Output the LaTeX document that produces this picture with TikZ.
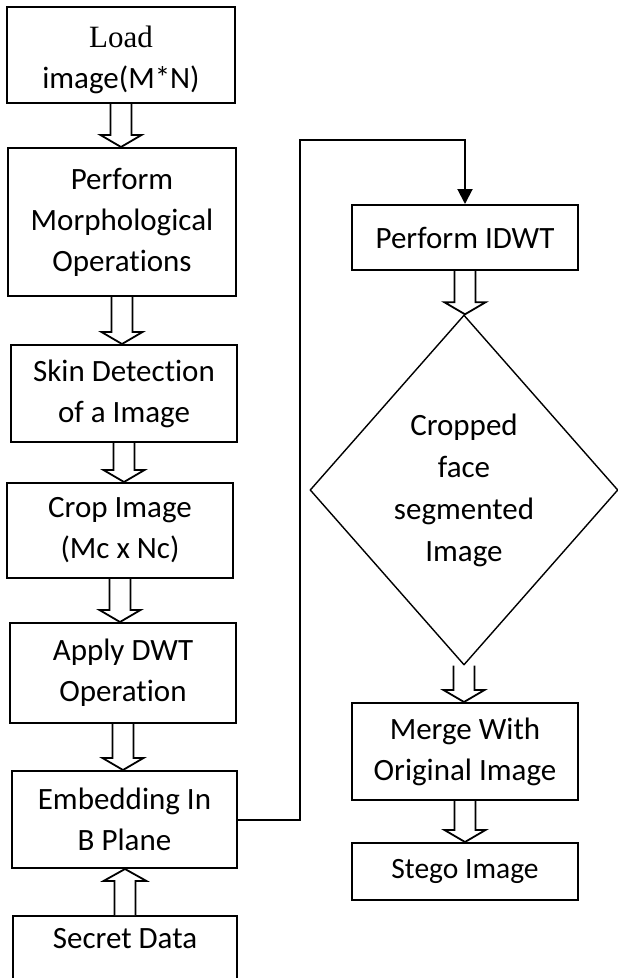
\documentclass[tikz,border=0pt]{standalone}
\usepackage{fontspec}
\setmainfont{Carlito}[Ligatures={NoCommon}]
\newfontfamily\timesf{Liberation Serif}
\usetikzlibrary{calc,shapes.geometric,arrows.meta}
\tikzset{
  box/.style={draw, line width=2pt, rectangle, align=center, inner sep=0pt,
    font=\fontsize{31pt}{41pt}\selectfont},
  blockarrow/.style={draw, line width=1.8pt, fill=white, line join=miter},
  conn/.style={draw, line width=2pt},
}
\newcommand\arrdown[2]{\path[blockarrow] let \p1=(#1.south), \p2=(#2.north) in
  (\x1-10.5pt,\y1) -- (\x1-10.5pt,\y2+12pt) -- (\x1-20.5pt,\y2+12pt) -- (\x1,\y2)
  -- (\x1+20.5pt,\y2+12pt) -- (\x1+10.5pt,\y2+12pt) -- (\x1+10.5pt,\y1);}
\newcommand\arrup[2]{\path[blockarrow] let \p1=(#1.north), \p2=(#2.south) in
  (\x1-10.5pt,\y1) -- (\x1-10.5pt,\y2-12pt) -- (\x1-21.5pt,\y2-12pt) -- (\x1,\y2)
  -- (\x1+21.5pt,\y2-12pt) -- (\x1+10.5pt,\y2-12pt) -- (\x1+10.5pt,\y1);}
\begin{document}
\begin{tikzpicture}[x=1pt,y=-1pt]
\useasboundingbox (0,0) rectangle (618,978);
% left column
\node[box, minimum width=228pt, minimum height=96pt] (load) at (121,55) {{\timesf Load}\rule{0pt}{32pt}\\image(M*N)};
\node[box, minimum width=228pt, minimum height=148pt] (morph) at (122,222) {Perform\\Morphological\\Operations};
\node[box, minimum width=226pt, minimum height=97pt] (skin) at (124,393.5) {Skin Detection\\of a Image};
\node[box, minimum width=226pt, minimum height=95pt] (crop) at (120,530.5) {Crop Image\\(Mc x Nc)};
\node[box, minimum width=226pt, minimum height=100pt] (dwt) at (123,673) {Apply DWT\\Operation};
\node[box, minimum width=225pt, minimum height=97pt] (embed) at (124.5,819.5) {Embedding In\\B Plane};
\node[box, anchor=north, minimum width=224pt, text height=22pt, text depth=50pt, inner ysep=10pt] (secret) at (125,915) {Secret Data};
% right column
\node[box, minimum width=226pt, minimum height=65pt] (idwt) at (465,237.5) {Perform IDWT};
\node[diamond, draw, line width=1.4pt, minimum width=308pt, minimum height=350pt, inner sep=0pt,
  align=center, font=\fontsize{31pt}{42pt}\selectfont] (dia) at (464,490) {Cropped\\face\\segmented\\Image};
\node[box, minimum width=226pt, minimum height=97pt] (merge) at (465,751.5) {Merge With\\Original Image};
\node[box, minimum width=226pt, minimum height=57pt, font=\fontsize{29.5pt}{40pt}\selectfont] (stego) at (465,871.5) {Stego Image};
% block arrows
\arrdown{load}{morph}
\arrdown{morph}{skin}
\arrdown{skin}{crop}
\arrdown{crop}{dwt}
\arrdown{dwt}{embed}
\arrup{secret}{embed}
\arrdown{idwt}{dia}
\arrdown{dia}{merge}
\arrdown{merge}{stego}
% connector
\coordinate (turn) at (300,140);
\draw[conn, -{Triangle[length=15pt,width=15pt]}] (embed.east) -| (turn) -| (idwt.north);
\end{tikzpicture}
\end{document}
